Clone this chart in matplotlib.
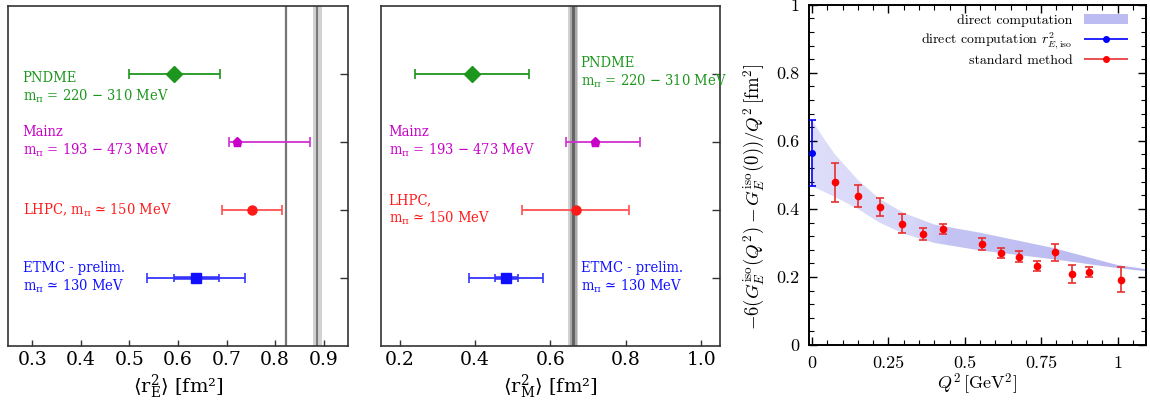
import numpy as np
import matplotlib
matplotlib.use("Agg")
import matplotlib.pyplot as plt
from matplotlib.patches import Patch
from matplotlib.legend_handler import HandlerErrorbar
from matplotlib.ticker import MultipleLocator, FuncFormatter
from matplotlib.colors import LinearSegmentedColormap

# lattice results, top to bottom
groups = ['PNDME', 'Mainz', 'LHPC', 'ETMC']
ypos = [4, 3, 2, 1]
colors = ['#1c961c', '#c800c8', '#ff1a1a', '#1010ff']
ecolors = ['#1c961c', '#d030d0', '#ff5050', '#3535ff']
markers = ['D', 'p', 'o', 's']
msizes = [8, 6.5, 6.5, 7]

# <r_E^2> [fm^2]
rE_val = [0.592, 0.722, 0.752, 0.638]
rE_lo = [0.499, 0.706, 0.691, 0.537]
rE_hi = [0.686, 0.871, 0.814, 0.737]
rE_etmc_stat = [0.592, 0.684]

# <r_M^2> [fm^2]
rM_val = [0.392, 0.719, 0.667, 0.482]
rM_lo = [0.240, 0.642, 0.525, 0.385]
rM_hi = [0.543, 0.837, 0.807, 0.580]
rM_etmc_stat = [0.452, 0.513]

# experimental values (line, band edges)
rE_muH = [0.8225, 0.8195, 0.8255]
rE_codata = [0.8865, 0.878, 0.896]
rM_exp = [0.661, 0.647, 0.674]

mpi = r'm$_{\mathrm{\pi}}$'
labels_E = ['PNDME\n' + mpi + ' = 220 − 310 MeV',
            'Mainz\n' + mpi + ' = 193 − 473 MeV',
            'LHPC, ' + mpi + ' ≃ 150 MeV',
            'ETMC - prelim.\n' + mpi + ' ≃ 130 MeV']
labels_M = ['PNDME\n' + mpi + ' = 220 − 310 MeV',
            'Mainz\n' + mpi + ' = 193 − 473 MeV',
            'LHPC,\n' + mpi + ' ≃ 150 MeV',
            'ETMC - prelim.\n' + mpi + ' ≃ 130 MeV']
textx_E = [0.28, 0.28, 0.28, 0.28]
texty_E = [3.79, 3.0, 2.0, 1.0]
textx_M = [0.68, 0.171, 0.171, 0.68]
texty_M = [4.02, 3.0, 2.0, 1.0]

# -6(G_E(Q^2)-G_E(0))/Q^2
q2_std = [0.075, 0.150, 0.223, 0.295, 0.363, 0.430, 0.557, 0.618, 0.678,
          0.736, 0.794, 0.851, 0.905, 1.011]
val_std = [0.478, 0.438, 0.406, 0.356, 0.326, 0.341, 0.296, 0.270, 0.260,
           0.232, 0.272, 0.208, 0.214, 0.192]
err_std = [0.058, 0.033, 0.027, 0.028, 0.017, 0.016, 0.017, 0.015, 0.016,
           0.015, 0.025, 0.026, 0.015, 0.036]
q2_iso = [0.0]
val_iso = [0.563]
err_iso = [0.097]
band_q2 = [0.0, 0.04, 0.075, 0.15, 0.22, 0.30, 0.40, 0.55, 0.79, 1.0, 1.1]
band_hi = [0.660, 0.605, 0.560, 0.485, 0.430, 0.388, 0.354, 0.330, 0.285, 0.235, 0.222]
band_lo = [0.466, 0.450, 0.435, 0.400, 0.360, 0.327, 0.300, 0.278, 0.252, 0.226, 0.216]

SERIF = ['DejaVu Serif', 'DejaVu Sans']
fig = plt.figure(figsize=(11.5, 4.05), dpi=100)


def forest(ax, val, lo, hi, stat, muh, exps, xlim, xticks, labels, tx, ty, xlabel):
    for lvl in exps:
        ax.axvspan(lvl[1], lvl[2], color='#d2d2d2', lw=0, zorder=1)
        ax.axvline(lvl[0], color='#7a7a7a', lw=1.5, zorder=2)
    if muh is not None:
        ax.axvspan(muh[1], muh[2], color='#c4c4c4', lw=0, zorder=1)
        ax.axvline(muh[0], color='#767676', lw=1.6, zorder=2)
    # ETMC statistical error, thicker
    ax.errorbar(stat[0] / 2 + stat[1] / 2, ypos[3],
                xerr=[[stat[1] / 2 - stat[0] / 2]], fmt='none',
                ecolor=ecolors[3], elinewidth=2.6, capsize=3, capthick=1.2, zorder=3)
    for i in range(len(groups)):
        ax.errorbar(val[i], ypos[i], xerr=[[val[i] - lo[i]], [hi[i] - val[i]]],
                    fmt=markers[i], color=colors[i], ecolor=ecolors[i], ms=msizes[i],
                    elinewidth=1.3, capsize=3.5, capthick=1.2, zorder=4)
        ax.text(tx[i], ty[i], labels[i], color=colors[i], fontsize=10.5, family=SERIF,
                fontstretch='condensed', math_fontfamily='dejavuserif',
                ha='left', va='center', linespacing=1.2)
    ax.set_xlim(xlim)
    ax.set_ylim(0, 5)
    ax.set_xticks(xticks)
    ax.set_xticklabels(['%.1f' % t for t in xticks], family=SERIF, fontsize=13.5)
    ax.set_yticks(ypos)
    ax.set_yticklabels([])
    ax.tick_params(axis='y', direction='in', length=6, left=False, right=True,
                   width=1.0, color='#333333')
    ax.tick_params(axis='x', direction='in', length=4, width=1.0, color='#333333')
    for s in ax.spines.values():
        s.set_color('#333333')
        s.set_linewidth(1.2)
    ax.set_xlabel(xlabel, family=SERIF, fontsize=14, math_fontfamily='dejavuserif',
                  labelpad=3)


ax1 = fig.add_axes([0.00696, 0.1457, 0.2956, 0.8393])
forest(ax1, rE_val, rE_lo, rE_hi, rE_etmc_stat, rE_muH, [rE_codata], (0.25, 0.95),
       [0.3, 0.4, 0.5, 0.6, 0.7, 0.8, 0.9], labels_E, textx_E, texty_E,
       r'$\langle\mathrm{r}^2_\mathrm{E}\rangle$ [fm²]')

ax2 = fig.add_axes([0.331, 0.1457, 0.2953, 0.8393])
forest(ax2, rM_val, rM_lo, rM_hi, rM_etmc_stat, None, [rM_exp], (0.15, 1.05),
       [0.2, 0.4, 0.6, 0.8, 1.0], labels_M, textx_M, texty_M,
       r'$\langle\mathrm{r}^2_\mathrm{M}\rangle$ [fm²]')
# darker core of the experimental band
ax2.axvspan(0.652, 0.670, color='#aaaaaa', lw=0, zorder=1)
ax2.axvspan(0.656, 0.666, color='#656565', lw=0, zorder=2)

# right panel, gnuplot style
ax3 = fig.add_axes([0.7035, 0.1481, 0.2930, 0.8403])
band = ax3.fill_between(band_q2, band_lo, band_hi, color='none', lw=0, zorder=1)
band_cmap = LinearSegmentedColormap.from_list(
    'band', [(0.0, '#dedefa'), (0.3, '#d6d6f8'), (0.4, '#c4c4f4'), (1.0, '#b8b8f0')])
grad = ax3.imshow(np.linspace(0, 1, 256).reshape(1, -1), cmap=band_cmap, aspect='auto',
                  extent=[band_q2[0], band_q2[-1], 0, 1], origin='lower', zorder=1)
grad.set_clip_path(band.get_paths()[0], transform=ax3.transData)
ax3.errorbar(q2_iso, val_iso, yerr=err_iso, fmt='o', color='#0000ff', ms=4,
             elinewidth=1.2, capsize=3, capthick=1.2, zorder=3)
ax3.errorbar(q2_std, val_std, yerr=err_std, fmt='o', color='#ff0000', ecolor='#e83030',
             ms=4.5, elinewidth=1.2, capsize=3, capthick=1.2, zorder=3)
ax3.set_xlim(-0.01, 1.093)
ax3.set_ylim(0, 1)
ax3.xaxis.set_major_locator(MultipleLocator(0.25))
ax3.xaxis.set_minor_locator(MultipleLocator(0.05))
ax3.yaxis.set_major_locator(MultipleLocator(0.2))
ax3.yaxis.set_minor_locator(MultipleLocator(0.04))
fmt = FuncFormatter(lambda v, p: '%g' % round(v, 3))
ax3.xaxis.set_major_formatter(fmt)
ax3.yaxis.set_major_formatter(fmt)
ax3.tick_params(which='both', direction='in', top=True, right=True, color='black',
                labelsize=13, labelfontfamily='cmr10')
ax3.tick_params(which='major', length=6, width=1.0, pad=7)
ax3.tick_params(axis='x', which='major', pad=8)
ax3.tick_params(which='minor', length=3.5, width=0.8)
for s in ax3.spines.values():
    s.set_linewidth(1.4)
ax3.set_xlabel(r'$Q^2\,[\mathrm{GeV}^2]$', fontsize=13, math_fontfamily='cm', labelpad=0)
ax3.set_ylabel(r'$-6(G_E^{\rm iso}(Q^2)-G_E^{\rm iso}(0))/Q^2\,[\mathrm{fm}^2]$',
               fontsize=13.5, math_fontfamily='cm', labelpad=4)
ax3.yaxis.set_label_coords(-0.125, 0.435)

# legend proxies with horizontal error bars, like gnuplot
band_h = Patch(facecolor='#bcbcf3', edgecolor='none')
iso_h = ax3.errorbar([], [], xerr=[], fmt='o', color='#0000ff', ms=4, elinewidth=1.2,
                     capsize=3, capthick=1.2)
std_h = ax3.errorbar([], [], xerr=[], fmt='o', color='#ff0000', ecolor='#e83030', ms=4,
                     elinewidth=1.2, capsize=3, capthick=1.2)
leg = ax3.legend([band_h, iso_h, std_h],
                 ['direct computation', r'direct computation $r^2_{E,\rm iso}$',
                  'standard method'],
                 loc='upper right', bbox_to_anchor=(0.947, 0.972), frameon=False,
                 markerfirst=False, fontsize=10, handlelength=3.2, handletextpad=0.8,
                 labelspacing=0.25, borderpad=0, borderaxespad=0,
                 handler_map={iso_h: HandlerErrorbar(xerr_size=1.6),
                              std_h: HandlerErrorbar(xerr_size=1.6)})
for t in leg.get_texts():
    t.set_family('cmr10')
    t.set_math_fontfamily('cm')
    t.set_ha('right')
leg._legend_box.align = 'right'

fig.savefig('out.png', dpi=100)
